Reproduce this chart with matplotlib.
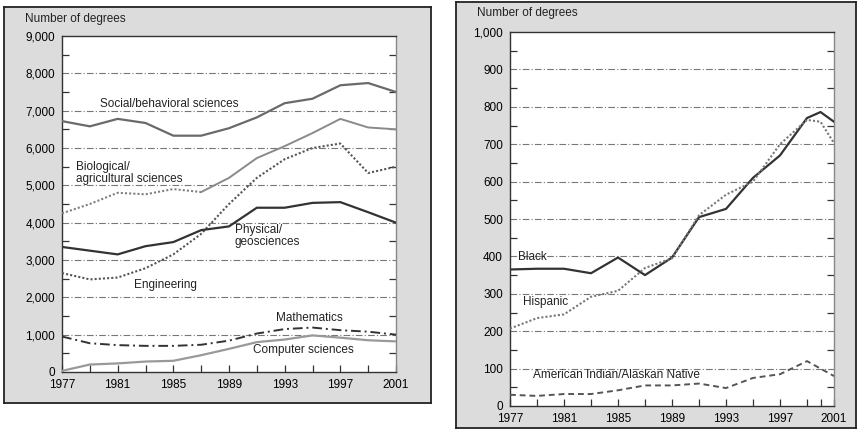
import matplotlib
matplotlib.use("Agg")
import matplotlib.pyplot as plt
from matplotlib.ticker import FixedLocator, FuncFormatter

plt.rcParams['font.family'] = ['Liberation Sans', 'DejaVu Sans']

# left panel: degrees by field
years = [1977, 1979, 1981, 1983, 1985, 1987, 1989, 1991, 1993, 1995, 1997, 1999, 2001]
social = [6720, 6580, 6780, 6670, 6330, 6330, 6530, 6820, 7200, 7320, 7680, 7740, 7500]
biological = [4250, 4500, 4800, 4760, 4900, 4820, 5200, 5730, 6050, 6400, 6780, 6550, 6500]
engineering = [2650, 2480, 2530, 2780, 3150, 3700, 4500, 5200, 5700, 6000, 6120, 5330, 5500]
physical = [3350, 3250, 3150, 3370, 3480, 3800, 3900, 4400, 4400, 4530, 4550, 4280, 4000]
mathematics = [950, 770, 720, 700, 700, 730, 840, 1030, 1150, 1190, 1120, 1080, 1000]
computer = [30, 200, 230, 280, 300, 450, 620, 800, 870, 980, 920, 850, 820]

# right panel: degrees by race/ethnicity
years_r = [1977, 1979, 1981, 1983, 1985, 1987, 1989, 1991, 1993, 1995, 1997, 1999, 2000, 2001]
black = [365, 367, 367, 355, 397, 350, 397, 505, 527, 610, 670, 770, 786, 760]
hispanic = [207, 235, 245, 292, 308, 369, 395, 510, 565, 600, 700, 765, 760, 703]
amind = [30, 27, 32, 32, 42, 55, 55, 60, 48, 75, 85, 120, 100, 80]

fig = plt.figure(figsize=(8.59, 4.30), dpi=100)

def frame(rect):
    bg = fig.add_axes(rect)
    bg.set_facecolor('#dcdcdc')
    bg.set_xticks([])
    bg.set_yticks([])
    for s in bg.spines.values():
        s.set_color('#222222')
        s.set_linewidth(1.3)
    return bg

def style(ax, ymax, ystep, fmt):
    ax.set_facecolor('white')
    ax.set_xlim(1977, 2001)
    ax.set_ylim(0, ymax)
    ax.xaxis.set_major_locator(FixedLocator(list(range(1977, 2002, 4))))
    ax.xaxis.set_minor_locator(FixedLocator(list(range(1979, 2002, 4))))
    ax.yaxis.set_major_locator(FixedLocator([ystep * i for i in range(11)]))
    ax.yaxis.set_minor_locator(FixedLocator([ystep * (i + 0.5) for i in range(10)]))
    ax.yaxis.set_major_formatter(FuncFormatter(fmt))
    ax.tick_params(axis='x', which='both', direction='in', length=5, width=0.9,
                   color='#333333', labelsize=8.5, pad=5, top=False)
    ax.tick_params(axis='y', which='major', length=0, labelsize=8.5, pad=5)
    ax.tick_params(axis='y', which='minor', direction='in', length=5, width=0.9,
                   color='#333333', left=True, right=True)
    for y in range(ystep, ymax, ystep):
        ax.axhline(y, color='#777777', lw=0.8, ls=(0, (6, 2, 1, 2)), zorder=1)
    ax.spines['left'].set_color('#333333')
    ax.spines['bottom'].set_color('#333333')
    ax.spines['top'].set_color('#333333')
    ax.spines['right'].set_color('#888888')
    for s in ax.spines.values():
        s.set_linewidth(1.0)

# left panel
frame([4 / 859, 27 / 430, 427 / 859, 396 / 430])
ax1 = fig.add_axes([62 / 859, 58 / 430, 334 / 859, 336 / 430])
style(ax1, 9000, 1000, lambda v, p: '0' if v == 0 else f'{int(v):,}')

ax1.plot(years, social, color='#6a6a6a', lw=1.6, zorder=3)
ax1.plot(years[:6], biological[:6], color='#808080', lw=1.5, ls=(0, (1, 1)), zorder=3)
ax1.plot(years[5:], biological[5:], color='#8a8a8a', lw=1.4, zorder=3)
ax1.plot(years, engineering, color='#555555', lw=1.5, ls=(0, (1, 1)), zorder=3)
ax1.plot(years, physical, color='#333333', lw=1.6, zorder=3)
ax1.plot(years, mathematics, color='#333333', lw=1.4, ls=(0, (5, 2, 1, 2)), zorder=3)
ax1.plot(years, computer, color='#999999', lw=1.6, zorder=3)

tk = dict(fontsize=8.5, color='#222222', va='center', ha='left', zorder=4)
ax1.text(1979.7, 7180, 'Social/behavioral sciences', **tk)
ax1.text(1978.0, 5330, 'Biological/\nagricultural sciences', linespacing=0.95, **tk)
ax1.text(1989.4, 3640, 'Physical/\ngeosciences', linespacing=0.95, **tk)
ax1.text(1982.2, 2330, 'Engineering', **tk)
ax1.text(1992.4, 1450, 'Mathematics', **tk)
ax1.text(1990.7, 590, 'Computer sciences', **tk)
fig.text(25 / 859, 1 - 19 / 430, 'Number of degrees', fontsize=8.5, color='#222222',
         ha='left', va='center')

# right panel
frame([456 / 859, 2 / 430, 400 / 859, 426 / 430])
ax2 = fig.add_axes([510 / 859, 24 / 430, 324 / 859, 374 / 430])
style(ax2, 1000, 100, lambda v, p: '0' if v == 0 else f'{int(v):,}')
ax2.xaxis.set_minor_locator(FixedLocator(list(range(1979, 2002, 4)) + [2000]))

ax2.plot(years_r, black, color='#333333', lw=1.6, zorder=3)
ax2.plot(years_r, hispanic, color='#777777', lw=1.5, ls=(0, (1, 1)), zorder=3)
ax2.plot(years_r, amind, color='#555555', lw=1.4, ls=(0, (3, 2)), zorder=3)

ax2.text(1977.6, 398, 'Black', **tk)
ax2.text(1978.0, 278, 'Hispanic', **tk)
ax2.text(1978.7, 83, 'American Indian/Alaskan Native', **tk)
fig.text(477 / 859, 1 - 13 / 430, 'Number of degrees', fontsize=8.5, color='#222222',
         ha='left', va='center')

fig.savefig('out.png', dpi=100)
